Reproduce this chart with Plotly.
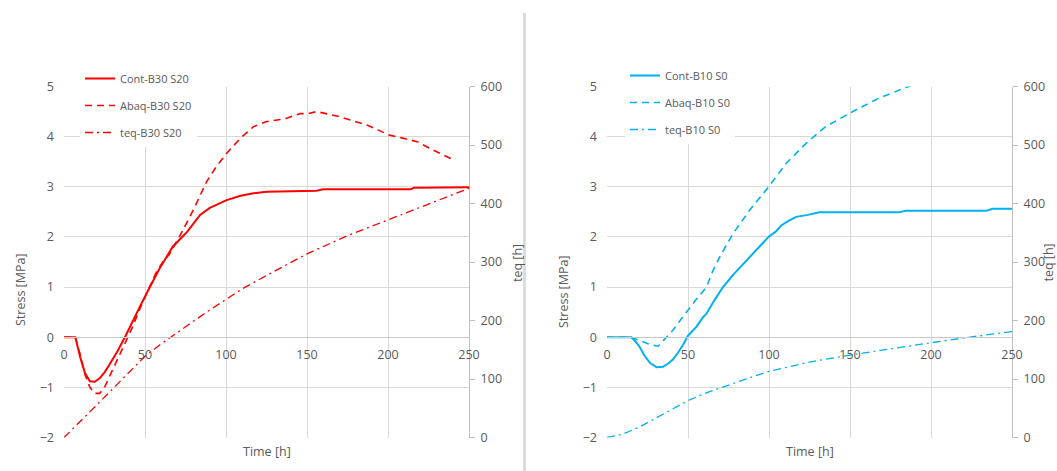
import plotly.graph_objects as go

W, H = 1057, 471

# ---------------- B30 S20 (left panel) ----------------
t_cont_b30 = [0, 7, 10, 13, 16, 19, 22, 25, 28, 33, 37.6, 42, 47, 53, 59, 67, 76, 84, 90, 94,
              100, 109, 117, 125, 140, 156, 160, 185, 214, 216, 250]
s_cont_b30 = [0, 0, -0.4, -0.72, -0.88, -0.89, -0.82, -0.7, -0.55, -0.28, 0, 0.3, 0.62, 1.0, 1.37,
              1.8, 2.1, 2.44, 2.58, 2.64, 2.73, 2.82, 2.87, 2.9, 2.91, 2.92, 2.95, 2.95, 2.95, 2.98, 2.99]

t_abaq_b30 = [0, 7, 10, 13, 16, 19, 22, 25, 29, 33, 38, 42, 47, 52, 57, 62, 65, 72, 80, 88, 94,
              100, 104, 110, 117, 125, 131, 137, 142, 146, 151, 156, 163, 170, 178, 187, 194,
              201, 209, 218, 228, 233, 239]
s_abaq_b30 = [0, 0, -0.35, -0.75, -1.0, -1.12, -1.12, -1.0, -0.72, -0.45, -0.1, 0.18, 0.58, 0.95,
              1.3, 1.55, 1.65, 2.05, 2.55, 3.1, 3.4, 3.65, 3.8, 4.0, 4.2, 4.3, 4.33, 4.36, 4.42,
              4.46, 4.46, 4.5, 4.45, 4.4, 4.32, 4.23, 4.13, 4.03, 3.97, 3.9, 3.73, 3.65, 3.56]

t_teq_b30 = [0, 10, 20, 30, 40, 50, 60, 70, 80, 90, 100, 110, 125, 150, 175, 200, 225, 250]
teq_b30 = [0, 27, 55, 83, 111, 139, 160, 180, 199, 218, 236, 254, 277, 314, 345, 372, 398, 426]

# ---------------- B10 S0 (right panel) ----------------
t_cont_b10 = [0, 15, 17.5, 20.3, 23, 26.5, 30.6, 34.5, 38, 40.8, 44, 47, 50, 55, 59.3, 61.4, 66,
              71.6, 78, 86, 93, 100, 104, 107.6, 112, 116.8, 124, 131, 180, 184.5, 234, 238, 250]
s_cont_b10 = [0, 0, -0.08, -0.2, -0.36, -0.51, -0.6, -0.59, -0.52, -0.44, -0.3, -0.15, 0.03, 0.2,
              0.4, 0.47, 0.72, 1.0, 1.25, 1.53, 1.78, 2.01, 2.1, 2.23, 2.32, 2.4, 2.44, 2.49, 2.49,
              2.52, 2.52, 2.56, 2.56]

t_abaq_b10 = [0, 15, 19, 23, 27, 31.6, 34, 36.8, 41, 45, 49, 55, 61.4, 65, 69.6, 77.8, 88, 100,
              110.7, 123, 135, 151.7, 168, 180, 188.6, 200]
s_abaq_b10 = [0, 0, -0.05, -0.1, -0.15, -0.18, -0.1, 0, 0.15, 0.33, 0.5, 0.75, 1.0, 1.3, 1.6,
              2.07, 2.53, 3.01, 3.47, 3.87, 4.2, 4.5, 4.77, 4.92, 5.03, 5.15]

t_teq_b10 = [0, 10, 20, 30, 40, 50, 60, 70, 80, 90, 100, 125, 150, 175, 200, 225, 250]
teq_b10 = [0, 6, 18, 33, 48, 63, 75, 85, 95, 104, 113, 129, 141, 152, 162, 172, 181]

# axis ticks
time_ticks = [0, 50, 100, 150, 200, 250]
stress_ticks = [-2, -1, 0, 1, 2, 3, 4, 5]
teq_ticks = [0, 100, 200, 300, 400, 500, 600]

RED = "#FF0000"
BLUE = "#00B0F0"
GREY_TXT = "#595959"
GRID = "#D9D9D9"
FONT = "Open Sans"

DASH = "7px,5px"
DASHDOT = "8px,4px,2px,4px"


def fx(p):
    return p / W


def fy(p):
    return 1 - p / H


y_dom = [fy(437.5), fy(86.5)]
left_dom = [fx(64), fx(469)]
right_dom = [fx(607), fx(1012)]
# paper position of stress = 0 (the time axis sits there)
zero_pos = y_dom[0] + (0 - (-2)) / 7 * (y_dom[1] - y_dom[0])

fig = go.Figure()

# left panel
fig.add_trace(go.Scatter(x=t_cont_b30, y=s_cont_b30, name="Cont-B30 S20", mode="lines",
                         line=dict(color=RED, width=2), xaxis="x", yaxis="y",
                         legend="legend", legendgroup="a1"))
fig.add_trace(go.Scatter(x=t_abaq_b30, y=s_abaq_b30, name="Abaq-B30 S20", mode="lines",
                         line=dict(color=RED, width=1.6, dash=DASH), xaxis="x", yaxis="y",
                         legend="legend", legendgroup="a2"))
fig.add_trace(go.Scatter(x=t_teq_b30, y=teq_b30, name="teq-B30 S20", mode="lines",
                         line=dict(color=RED, width=1.3, dash=DASHDOT), xaxis="x", yaxis="y2",
                         legend="legend", legendgroup="a3"))

# right panel
fig.add_trace(go.Scatter(x=t_cont_b10, y=s_cont_b10, name="Cont-B10 S0", mode="lines",
                         line=dict(color=BLUE, width=2), xaxis="x2", yaxis="y3",
                         legend="legend2", legendgroup="b1"))
fig.add_trace(go.Scatter(x=t_abaq_b10, y=s_abaq_b10, name="Abaq-B10 S0", mode="lines",
                         line=dict(color=BLUE, width=1.6, dash=DASH), xaxis="x2", yaxis="y3",
                         legend="legend2", legendgroup="b2"))
fig.add_trace(go.Scatter(x=t_teq_b10, y=teq_b10, name="teq-B10 S0", mode="lines",
                         line=dict(color=BLUE, width=1.3, dash=DASHDOT), xaxis="x2", yaxis="y4",
                         legend="legend2", legendgroup="b3"))

tick_font = dict(family=FONT, size=12.5, color=GREY_TXT)

time_axis = dict(range=[0, 250], tickvals=time_ticks, showgrid=True, gridcolor=GRID, gridwidth=1.2,
                 showline=True, linecolor="#C8C8C8", linewidth=1.2, ticks="", zeroline=False,
                 anchor="free", position=zero_pos, tickfont=tick_font, ticklabelstandoff=6,
                 automargin=False)
stress_axis = dict(range=[-2, 5], tickvals=stress_ticks, showgrid=True, gridcolor=GRID,
                   gridwidth=1.2, zeroline=False, showline=False, ticks="",
                   tickfont=tick_font, ticklabelstandoff=9, domain=y_dom, automargin=False)
teq_axis = dict(range=[0, 600], tickvals=teq_ticks, showgrid=False, zeroline=False, side="right",
                showline=True, linecolor="#BFBFBF", linewidth=1.2, ticks="outside", ticklen=5,
                tickcolor="#BFBFBF", tickfont=tick_font, ticklabelstandoff=3, automargin=False)

legend_font = dict(family=FONT, size=11, color=GREY_TXT)

fig.update_layout(
    width=W, height=H,
    margin=dict(l=0, r=0, t=0, b=0, autoexpand=False),
    paper_bgcolor="white", plot_bgcolor="white",
    font=dict(family=FONT, color=GREY_TXT),
    xaxis=dict(domain=left_dom, **time_axis),
    yaxis=dict(anchor="x", **stress_axis),
    yaxis2=dict(overlaying="y", anchor="x", **teq_axis),
    xaxis2=dict(domain=right_dom, **time_axis),
    yaxis3=dict(anchor="x2", **stress_axis),
    yaxis4=dict(overlaying="y3", anchor="x2", **teq_axis),
    legend=dict(x=fx(80), y=fy(64), xanchor="left", yanchor="top", bgcolor="white",
                borderwidth=0, font=legend_font, tracegroupgap=8, itemclick=False),
    legend2=dict(x=fx(625), y=fy(61), xanchor="left", yanchor="top", bgcolor="white",
                 borderwidth=0, font=legend_font, tracegroupgap=8, itemclick=False),
    showlegend=True,
)

title_font = dict(family=FONT, size=12.5, color=GREY_TXT)
annotations = [
    dict(text="Time [h]", x=fx(266.5), y=fy(451)),
    dict(text="Time [h]", x=fx(809.5), y=fy(451)),
    dict(text="Stress [MPa]", x=fx(20), y=fy(290), textangle=-90),
    dict(text="Stress [MPa]", x=fx(563), y=fy(292), textangle=-90),
    dict(text="teq [h]", x=fx(517), y=fy(263), textangle=-90),
    dict(text="teq [h]", x=fx(1047.5), y=fy(263), textangle=-90),
]
for a in annotations:
    fig.add_annotation(xref="paper", yref="paper", showarrow=False, xanchor="center",
                       yanchor="middle", font=title_font, **a)

# divider between the two panels
fig.add_shape(type="line", xref="paper", yref="paper", x0=fx(524.5), x1=fx(524.5),
              y0=fy(13), y1=0, line=dict(color="#DCDCDC", width=3))

fig.write_html("out.html")
